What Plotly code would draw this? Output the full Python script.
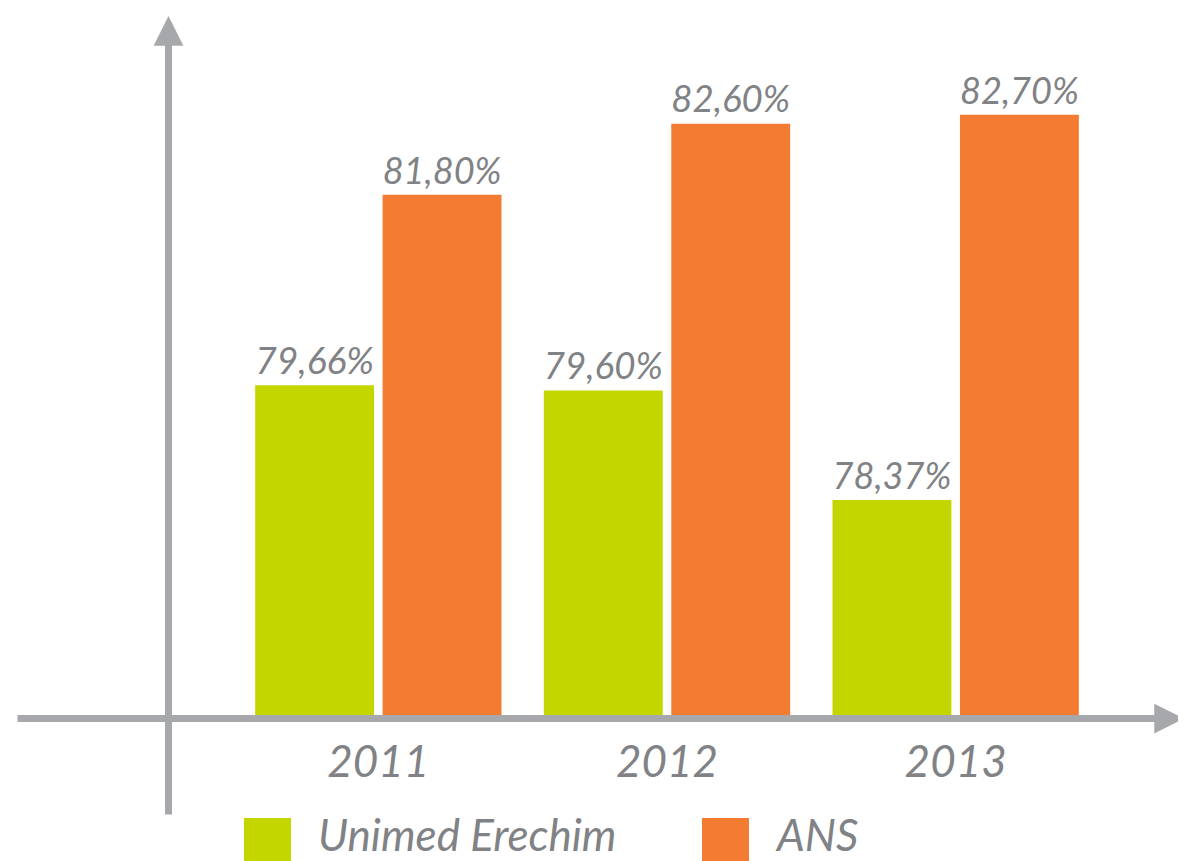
import plotly.graph_objects as go

# ── Data ──────────────────────────────────────────────────────────────────────
YEARS = ["2011", "2012", "2013"]
UNIMED = [79.66, 79.60, 78.37]
ANS = [81.80, 82.60, 82.70]

SERIES_NAMES = ["Unimed Erechim", "ANS"]
SERIES_COLOURS = ["#C4D600", "#F47B32"]

# ── Geometry (page px; the page body adds an 8px offset) ─────────────────────
PAGE_OFF = 8
W, H = 1186 - PAGE_OFF, 861 - PAGE_OFF
L, R, T, B = 234 - PAGE_OFF, 86, 0, 144
PLOT_W = W - L - R
PLOT_H = H - T - B

AXIS_GREY = "#A7A8AB"
TEXT_GREY = "#808285"
FONT = "Lato"


def px_x(px):
    return (px - PAGE_OFF - L) / PLOT_W


def px_y(py):
    return (T + PLOT_H - (py - PAGE_OFF)) / PLOT_H


fig = go.Figure()

for name, vals, colour in zip(SERIES_NAMES, [UNIMED, ANS], SERIES_COLOURS):
    fig.add_trace(go.Bar(
        x=YEARS,
        y=vals,
        name=name,
        marker=dict(color=colour, line=dict(width=0)),
        texttemplate="%{y:.2f}%",
        textposition="outside",
        textfont=dict(family=FONT, size=40, color=TEXT_GREY, style="italic"),
        cliponaxis=False,
    ))

# ── Axis lines with arrowheads ───────────────────────────────────────────────
fig.add_annotation(
    xref="paper", yref="paper",
    x=px_x(168.5), y=px_y(16),
    ax=0, ay=800, axref="pixel", ayref="pixel",
    showarrow=True, arrowhead=2, arrowsize=0.85, arrowwidth=7,
    arrowcolor=AXIS_GREY, standoff=0, text="",
)
fig.add_annotation(
    xref="paper", yref="paper",
    x=px_x(1184), y=px_y(718.5),
    ax=-1168, ay=0, axref="pixel", ayref="pixel",
    showarrow=True, arrowhead=2, arrowsize=0.85, arrowwidth=7,
    arrowcolor=AXIS_GREY, standoff=0, text="",
)

# ── Legend (drawn by hand for big swatches) ──────────────────────────────────
legend_items = [(244, 316), (702, 773)]
for (sx, tx), name, colour in zip(legend_items, SERIES_NAMES, SERIES_COLOURS):
    fig.add_shape(
        type="rect", xref="paper", yref="paper",
        x0=px_x(sx), x1=px_x(sx + 47), y0=px_y(818), y1=px_y(863),
        fillcolor=colour, line=dict(width=0),
    )
    fig.add_annotation(
        xref="paper", yref="paper",
        x=px_x(tx), y=px_y(834), xanchor="left", yanchor="middle",
        text=name, showarrow=False,
        font=dict(family=FONT, size=44, color=TEXT_GREY, style="italic"),
    )

fig.update_layout(
    width=W, height=H,
    margin=dict(l=L, r=R, t=T, b=B, pad=0),
    barmode="group",
    bargap=0.117,
    bargroupgap=0.067,
    separators=",.",
    plot_bgcolor="white",
    paper_bgcolor="white",
    showlegend=False,
    xaxis=dict(
        showline=False, showgrid=False, zeroline=False,
        ticks="", ticklabelstandoff=15,
        tickfont=dict(family=FONT, size=44, color=TEXT_GREY, style="italic"),
    ),
    yaxis=dict(
        range=[75.93, 83.9],
        visible=False,
    ),
)

fig.write_html("out.html")
